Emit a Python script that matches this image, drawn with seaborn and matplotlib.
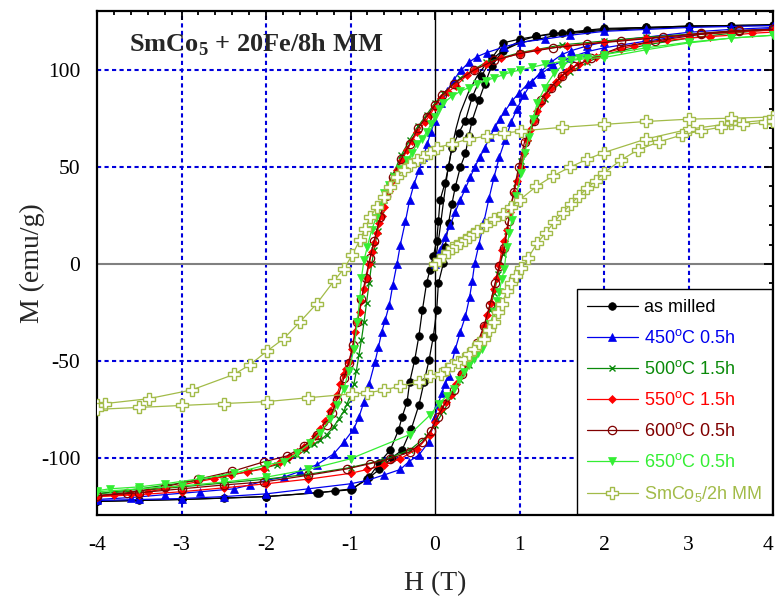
import numpy as np
import pandas as pd
import seaborn as sns
import matplotlib
matplotlib.use("Agg")
import matplotlib.pyplot as plt
from matplotlib.lines import Line2D
from matplotlib.ticker import MultipleLocator

# ---------------- data ----------------
# as milled
am_vir_H = [0, 0.05, 0.1, 0.15, 0.2, 0.25, 0.3, 0.4, 0.5, 0.6, 0.8, 1.0, 1.5, 2.0, 3.0, 4.0]
am_vir_M = [0, 15, 32, 48, 60, 70, 78, 89, 97, 103, 110, 114, 118.5, 120.5, 122.5, 123.5]
am_des_H = [4, 3.5, 3, 2.5, 2, 1.8, 1.6, 1.4, 1.2, 1.0, 0.8, 0.67, 0.55, 0.44, 0.36, 0.28, 0.2, 0.16, 0.12,
            0.06, 0.04, 0.02, -0.02, -0.06, -0.1, -0.15, -0.19, -0.24, -0.3, -0.33, -0.39, -0.43, -0.53,
            -0.66, -0.78, -0.98, -1.18, -1.37, -2.0, -2.5, -3.0, -3.5, -4.0]
am_des_M = [123, 123, 122.7, 122, 121.5, 120.6, 119.6, 119, 117.5, 116, 114, 106, 97, 86, 74, 67.5, 60, 50, 42,
            33, 22, 12, 4, -3, -10, -24, -37, -49.5, -61, -71, -79, -85.5, -96,
            -102.6, -110, -116, -117, -118, -120, -120.8, -121.5, -122, -122.5]
am_asc_H = [-4, -3, -2, -1.4, -1.0, -0.8, -0.66, -0.51, -0.39, -0.28, -0.19, -0.13, -0.07, -0.02, 0.02, 0.04,
            0.1, 0.12, 0.16, 0.2, 0.24, 0.3, 0.36, 0.4, 0.44, 0.52, 0.59, 0.67, 0.8, 1.0, 1.2, 1.5, 2.0, 2.5,
            3.0, 3.5, 4.0]
am_asc_M = [-122.5, -121.5, -120, -118, -116.5, -111, -106, -100, -96, -85, -72.7, -61, -49.5, -37.5, -24, -10,
            0.5, 8.8, 21, 31, 39.7, 50, 57, 66, 74, 84.5, 93, 102, 110, 115, 117.5, 119, 121, 122,
            122.7, 123, 123.2]

# 450 C 0.5h
b_vir_H = [0, 0.06, 0.12, 0.18, 0.24, 0.3, 0.36, 0.42, 0.47, 0.53, 0.59, 0.65, 0.71, 0.77, 0.83, 0.91, 0.99,
           1.1, 1.25, 1.4, 1.6, 1.8, 2.0, 2.5, 3.0, 3.5, 4.0]
b_vir_M = [0, 7, 14, 20, 27, 33, 39, 45, 50, 55, 60, 65.5, 70.6, 75, 79, 84, 88,
           93, 98, 102.5, 106.5, 109.5, 111.5, 115, 118, 120, 121.5]
b_des_H = [4, 3.5, 3, 2.5, 2, 1.6, 1.3, 1.02, 0.82, 0.61, 0.5, 0.4, 0.31, 0.22, 0.14, 0.07, 0, -0.05, -0.09,
           -0.14, -0.19, -0.25, -0.3, -0.35, -0.41, -0.45, -0.5, -0.54, -0.59, -0.63, -0.67, -0.71, -0.78,
           -0.84, -0.9, -0.96, -1.08, -1.2, -1.4, -1.6, -1.79, -2.0, -2.19, -2.38, -2.78, -3.2, -3.6, -4.0]
b_des_M = [123, 122.5, 122, 121, 120, 118, 116, 114.4, 112, 109, 107, 104, 100, 95, 89, 83, 74, 68, 62,
           55, 48.5, 41, 33, 22, 10, 0, -11, -21, -29, -35, -43, -50.5, -62,
           -71, -79, -85, -92, -98, -103.6, -107, -110, -111.6, -114, -116, -117.5, -119, -120.5, -121.5]
b_asc_H = [-4, -3.5, -3, -2.5, -2, -1.5, -1.0, -0.8, -0.6, -0.41, -0.31, -0.19, -0.07, 0.0, 0.04, 0.08, 0.12,
           0.16, 0.2, 0.24, 0.3, 0.36, 0.41, 0.44, 0.47, 0.52, 0.58, 0.64, 0.7, 0.76, 0.83, 0.9, 0.97, 1.05,
           1.15, 1.25, 1.37, 1.5, 1.61, 1.8, 2.0, 2.5, 3.0, 3.5, 4.0]
b_asc_M = [-122, -121.5, -121, -120, -118.6, -116, -113.4, -111.6, -108.8, -106, -102, -98.5, -91.6, -79, -72,
           -66.5, -62, -58, -51, -44, -35, -27, -17, -9, 0.5, 10, 22, 34, 45, 55, 64, 73, 80, 87,
           94, 99, 104, 108, 110, 112.5, 114.5, 117, 119.5, 121, 122]

# 500 C 1.5h
g_des_H = [4, 3.5, 3, 2.5, 2, 1.5, 1.0, 0.6, 0.3, 0.1, 0, -0.1, -0.2, -0.3, -0.4, -0.5, -0.55, -0.6, -0.64,
           -0.68, -0.72, -0.75, -0.78, -0.81, -0.84, -0.87, -0.9, -0.93, -0.96, -1.0, -1.04, -1.08, -1.14,
           -1.2, -1.28, -1.36, -1.43, -1.53, -1.63, -1.75, -1.87, -2.0, -2.2, -2.5, -3.0, -3.5, -4.0]
g_des_M = [121, 120, 118.5, 117, 115, 113, 109, 104, 96, 88, 83, 77, 71, 64, 56, 46, 40, 33, 26,
           17, 7, 0, -10, -20, -30, -39, -47, -55, -62, -68, -72, -76, -80,
           -84, -88, -91, -93, -96, -98.5, -101, -103.6, -105, -107, -109.5, -113, -116, -118.5]
g_asc_H = [-4, -3.5, -3, -2.5, -2, -1.5, -1.0, -0.6, -0.3, -0.1, 0, 0.1, 0.2, 0.3, 0.4, 0.5, 0.58, 0.65,
           0.7, 0.75, 0.8, 0.85, 0.9, 0.96, 1.02, 1.1, 1.2, 1.3, 1.45, 1.6, 1.8, 2.0, 2.5, 3.0, 3.5, 4.0]
g_asc_M = [-118.5, -117, -115, -113, -111, -108.5, -105, -101, -96, -89, -83, -76, -68, -60, -52, -43, -34, -24,
           -15, -5, 5, 17, 30, 42, 53, 65, 76, 85, 93, 99, 104, 108, 113, 116.5, 119, 121]

# 550 C 1.5h
r_des_H = [4, 3.5, 3, 2.5, 2, 1.56, 1.21, 1.0, 0.78, 0.6, 0.46, 0.38, 0.25, 0.15, 0.07, 0, -0.06, -0.12,
           -0.21, -0.27, -0.33, -0.39, -0.45, -0.5, -0.55, -0.6, -0.63, -0.66, -0.69, -0.72, -0.75, -0.78,
           -0.81, -0.84, -0.87, -0.89, -0.92, -0.95, -0.98, -1.02, -1.05, -1.08, -1.12, -1.16, -1.2, -1.24,
           -1.3, -1.36, -1.42, -1.48, -1.55, -1.63, -1.73, -1.83, -2.02, -2.22, -2.42, -2.62, -2.82, -3.0,
           -3.2, -3.4, -3.6, -3.8, -4.0]
r_des_M = [120.6, 119.5, 118, 116.5, 114.4, 112.5, 110.5, 108.5, 106, 103, 100, 97.5, 92, 88.5, 85.6, 81, 77, 73,
           68, 63.5, 58.8, 53.5, 48.5, 43.5, 37.5, 29.4, 25, 21, 16, 10.8, 6, 0,
           -7, -13, -19, -24.7, -30, -35, -43.8, -50.5, -54, -57, -62, -67.5, -72, -76,
           -81, -85, -88.5, -91.7, -94.5, -97, -99.5, -102, -105.7, -107.2, -109, -110.8, -112.4, -114,
           -116, -117.5, -118.6, -119.3, -120]
r_asc_H = [-4, -3.5, -3, -2.5, -2, -1.5, -1.0, -0.8, -0.6, -0.41, -0.21, -0.06, 0, 0.07, 0.13, 0.19, 0.25,
           0.31, 0.38, 0.46, 0.5, 0.54, 0.58, 0.62, 0.66, 0.7, 0.73, 0.76, 0.79, 0.82, 0.85, 0.89, 0.93,
           0.97, 1.02, 1.05, 1.09, 1.13, 1.17, 1.21, 1.25, 1.31, 1.37, 1.43, 1.49, 1.55, 1.61, 1.7, 1.8,
           1.9, 2.0, 2.2, 2.35, 2.5, 2.75, 3.0, 3.25, 3.5, 3.75, 4.0]
r_asc_M = [-120, -119, -117.5, -115.5, -113.4, -111, -108, -106, -103.6, -100.5, -95.4, -88, -81.5, -74.7, -71,
           -67.5, -62, -57, -52, -45, -42, -38.7, -32, -26.3, -20, -13, -7, -0.5, 7.2, 12, 17.5, 27, 36.6,
           43, 50, 57, 64, 69, 74, 79, 83, 87, 91, 94, 96.4, 99, 101, 103, 105,
           107, 108.8, 111, 112.5, 114, 115.3, 116.5, 117.3, 118, 119, 119.6]

# 600 C 0.5h
dr_des_H = [4, 3.6, 3.15, 2.7, 2.2, 1.8, 1.4, 1.0, 0.7, 0.46, 0.22, 0.08, 0, -0.1, -0.2, -0.3, -0.4, -0.5,
            -0.58, -0.65, -0.72, -0.77, -0.82, -0.87, -0.92, -0.97, -1.02, -1.08, -1.16, -1.22, -1.28,
            -1.4, -1.55, -1.75, -2.02, -2.4, -2.8, -3.2, -3.64, -4.0]
dr_des_M = [121, 120.5, 119, 117, 115, 113.5, 111.5, 108.5, 105, 100, 93, 87, 82, 76, 70, 62, 54, 45,
            35, 24, 12, 3, -7, -18, -30, -42, -51, -59, -70, -77, -83,
            -88, -94, -99, -102, -107, -111, -115, -118, -119.5]
dr_asc_H = [-4, -3.5, -3, -2.5, -2.02, -1.5, -1.04, -0.77, -0.53, -0.3, -0.15, -0.05, 0.03, 0.12, 0.22, 0.32,
            0.42, 0.5, 0.58, 0.65, 0.71, 0.76, 0.82, 0.87, 0.93, 0.99, 1.06, 1.17, 1.25, 1.37, 1.5, 1.65,
            1.85, 2.2, 2.6, 3.15, 3.6, 4.0]
dr_asc_M = [-119.5, -118, -116, -114, -112.4, -109, -105.7, -103, -100.5, -97, -92, -86, -79, -72, -65, -57,
            -48, -41, -32, -21, -10, -1, 8, 22, 37, 50, 63, 74, 84.5, 91, 97, 102,
            106, 112, 115, 118.5, 120, 121]

# 650 C 0.5h
lg_des_H = [4, 3.5, 3, 2.5, 2, 1.7, 1.5, 1.3, 1.15, 1.0, 0.9, 0.8, 0.7, 0.6, 0.5, 0.4, 0.3, 0.2, 0.1, 0.05,
            0, -0.05, -0.1, -0.15, -0.21, -0.27, -0.33, -0.41, -0.49, -0.55, -0.6, -0.65, -0.7, -0.75, -0.8,
            -0.84, -0.87, -0.89, -0.92, -0.96, -1.02, -1.08, -1.16, -1.24, -1.36, -1.48, -1.63, -1.79,
            -1.99, -2.38, -2.78, -3.2, -3.5, -3.85, -4.0]
lg_des_M = [118, 116.5, 114.4, 111.5, 108, 106, 104.5, 103, 101.5, 100, 99, 97.5, 96, 94.5, 93, 91, 89, 86.5, 83, 80,
            76, 72, 68, 64.5, 62, 57.5, 53.6, 49, 45, 40.5, 36.6, 30, 23.5, 17.5, 9,
            2, -7, -18, -30, -44, -55, -64.6, -73, -80, -87, -92.6, -97.5, -102,
            -103.6, -108, -110.8, -113.4, -115, -116, -117]
lg_asc_H = [-4, -3.5, -3, -2.5, -2, -1.5, -1.0, -0.3, -0.06, 0.05, 0.14, 0.22, 0.28, 0.34, 0.4, 0.46, 0.51,
            0.56, 0.6, 0.65, 0.7, 0.73, 0.76, 0.79, 0.82, 0.85, 0.88, 0.91, 0.96, 1.02, 1.06, 1.11, 1.16,
            1.21, 1.3, 1.41, 1.5, 1.61, 1.8, 2.0, 2.5, 3.0, 3.5, 4.0]
lg_asc_M = [-117.5, -116, -114.5, -112.5, -110, -106, -100.5, -88, -78, -72, -68, -64.6, -60, -55.6, -52, -49, -46,
            -44, -38, -31, -24.7, -19, -14.4, -8, -2.6, 8.8, 16, 22.7, 35, 47, 57, 65.5, 75,
            83, 91, 98.4, 102, 105, 106, 106.5, 110.5, 114, 116.5, 118]

# SmCo5 / 2h MM
ol_vir_H = [0, 0.05, 0.1, 0.15, 0.2, 0.25, 0.3, 0.35, 0.4, 0.45, 0.5, 0.6, 0.7, 0.8, 0.9, 1.0, 1.2, 1.4, 1.6,
            1.8, 2.0, 2.5, 3.0, 3.5, 4.0]
ol_vir_M = [0, 2, 4, 6, 8, 9.5, 11, 12.5, 14, 15.5, 17, 20, 23, 26, 29.5, 33, 40, 45.5, 50,
            54, 57.5, 64.5, 69.5, 72.5, 74.5]
ol_des_H = [4, 3.5, 3.0, 2.5, 2.0, 1.5, 1.02, 0.82, 0.62, 0.4, 0.2, 0.02, -0.06, -0.14, -0.21, -0.29, -0.37,
            -0.45, -0.53, -0.6, -0.69, -0.77, -0.83, -0.89, -0.98, -1.08, -1.2, -1.4, -1.6, -1.79, -1.99,
            -2.19, -2.38, -2.88, -3.39, -3.9, -4.0]
ol_des_M = [75.8, 75.2, 74.7, 73.5, 72, 70.5, 68.6, 67.5, 66, 64.5, 62, 60, 57, 55, 53.6, 51, 48.5,
            45, 39.7, 34.5, 29.4, 24, 18, 12.4, 4.6, -2.6, -9, -20.5, -30, -38.5, -45,
            -52, -57, -65, -69.5, -72, -73]
ol_asc_H = [-4, -3.5, -3, -2.5, -1.99, -1.5, -0.98, -0.8, -0.6, -0.41, -0.19, -0.06, 0.07, 0.14, 0.2, 0.27,
            0.34, 0.4, 0.46, 0.52, 0.58, 0.64, 0.7, 0.75, 0.79, 0.85, 0.9, 0.96, 1.02, 1.1, 1.21, 1.31,
            1.41, 1.51, 1.61, 1.7, 1.8, 1.9, 2.0, 2.2, 2.4, 2.65, 2.92, 3.15, 3.39, 3.65, 3.9, 4.0]
ol_asc_M = [-75, -74, -73, -72, -71, -69, -67, -66.5, -65, -63, -61, -58, -56.7, -54, -52, -50.5,
            -49, -46.5, -43.8, -41, -38.7, -34, -30, -25, -20.6, -14, -10, -6, -2, 3, 10.8, 16,
            21.6, 26.5, 31, 35, 39, 43, 47, 53.6, 58.8, 63, 66.5, 68.8, 70.6, 72, 73, 74]

labels = ["as milled", "450$^\\mathrm{o}$C 0.5h", "500$^\\mathrm{o}$C 1.5h", "550$^\\mathrm{o}$C 1.5h",
          "600$^\\mathrm{o}$C 0.5h", "650$^\\mathrm{o}$C 0.5h", "SmCo$_5$/2h MM"]
colors = ["#000000", "#0000ee", "#0a8a0a", "#ff0000", "#800000", "#33ee33", "#a2bb48"]
x_ticks = [-4, -3, -2, -1, 0, 1, 2, 3, 4]
x_ticklabels = ["-4", "-3", "-2", "-1", "0", "1", "2", "3", "4"]

# ---------------- style ----------------
sns.set_style("white")
plt.rcParams.update({
    "font.family": ["Liberation Serif", "DejaVu Serif"],
    "mathtext.fontset": "custom",
    "mathtext.rm": "Liberation Sans",
    "mathtext.it": "Liberation Sans:italic",
    "mathtext.bf": "Liberation Serif:bold",
    "axes.unicode_minus": False,
})

fig = plt.figure(figsize=(7.76, 5.98), dpi=100)
ax = fig.add_axes([97 / 776, 1 - 515 / 598, 676 / 776, 504 / 598])
ax.set_xlim(-4, 4)
ax.set_ylim(-129.5, 130.5)

# grid lines
for gx in [-3, -2, -1, 1, 2, 3]:
    ax.axvline(gx, color="#0000dd", lw=1.5, ls=(0, (2, 1.6)), zorder=0)
for gy in [-100, -50, 50, 100]:
    ax.axhline(gy, color="#0000dd", lw=1.5, ls=(0, (2, 1.6)), zorder=0)
ax.axvline(0, color="black", lw=1.0, zorder=0.5)
ax.axhline(0, color="#808080", lw=1.5, zorder=0.5)

styles = [
    dict(marker="o", markersize=5.5, markerfacecolor="#000000", markeredgecolor="#000000", markeredgewidth=0.5),
    dict(marker="^", markersize=6, markerfacecolor="#0000ee", markeredgecolor="#0000ee", markeredgewidth=0.5),
    dict(marker="x", markersize=4.5, markerfacecolor="#0a8a0a", markeredgecolor="#0a8a0a", markeredgewidth=1.0),
    dict(marker="D", markersize=4, markerfacecolor="#ff0000", markeredgecolor="#ff0000", markeredgewidth=0.5),
    dict(marker="o", markersize=6, markerfacecolor="none", markeredgecolor="#800000", markeredgewidth=0.9),
    dict(marker="v", markersize=6, markerfacecolor="#33ee33", markeredgecolor="#33ee33", markeredgewidth=0.5),
    dict(marker="P", markersize=8, markerfacecolor="white", markeredgecolor="#a2bb48", markeredgewidth=1.0),
]

series = [
    [(am_des_H, am_des_M), (am_asc_H, am_asc_M)],
    [(b_vir_H, b_vir_M), (b_des_H, b_des_M), (b_asc_H, b_asc_M)],
    [(g_des_H, g_des_M), (g_asc_H, g_asc_M)],
    [(r_des_H, r_des_M), (r_asc_H, r_asc_M)],
    [(dr_des_H, dr_des_M), (dr_asc_H, dr_asc_M)],
    [(lg_des_H, lg_des_M), (lg_asc_H, lg_asc_M)],
    [(ol_vir_H, ol_vir_M), (ol_des_H, ol_des_M), (ol_asc_H, ol_asc_M)],
]

# as-milled virgin curve (line only)
sns.lineplot(x=am_vir_H, y=am_vir_M, sort=False, estimator=None, color="#000000", lw=0.9,
             legend=False, ax=ax, zorder=2)

for i, (branches, col, st) in enumerate(zip(series, colors, styles)):
    for (h, m) in branches:
        df = pd.DataFrame({"H": h, "M": m})
        sns.lineplot(data=df, x="H", y="M", sort=False, estimator=None, color=col, lw=0.9,
                     legend=False, ax=ax, zorder=2 + i, **st)

# axes styling
for sp in ax.spines.values():
    sp.set_linewidth(1.6)
    sp.set_color("black")
ax.set_xticks(x_ticks)
ax.set_xticklabels(x_ticklabels)
ax.xaxis.set_minor_locator(MultipleLocator(0.2))
ax.yaxis.set_major_locator(MultipleLocator(50))
ax.yaxis.set_minor_locator(MultipleLocator(10))
ax.tick_params(which="both", direction="in", top=True, right=True, width=1.3, colors="black")
ax.tick_params(which="major", length=6.5, labelsize=15.5)
ax.tick_params(which="minor", length=3)
ax.tick_params(axis="x", which="major", pad=15)
ax.tick_params(axis="y", which="major", pad=12)
for t in ax.get_xticklabels() + ax.get_yticklabels():
    t.set_family("Liberation Serif")
# keep the last x tick label inside the figure
ax.xaxis.get_major_ticks()[-1].label1.set_horizontalalignment("right")

ax.set_xlabel("H (T)", fontsize=20, family="Liberation Serif", labelpad=12)
ax.set_ylabel("M (emu/g)", fontsize=20, family="Liberation Serif", labelpad=-3)

ax.text(0.047, 0.919, "SmCo$_\\mathbf{5}$ + 20Fe/8h MM", transform=ax.transAxes,
        fontsize=19, fontweight="bold", family="Liberation Serif", va="baseline", ha="left")

handles = [Line2D([0], [0], color=c, lw=0.9, **st) for c, st in zip(colors, styles)]
leg = ax.legend(handles, labels, loc="lower right", bbox_to_anchor=(1.0, 0.0), borderaxespad=0.05,
                frameon=True, fancybox=False, edgecolor="black", framealpha=1, numpoints=1,
                prop={"family": "Liberation Sans", "size": 13}, handlelength=2.8, handletextpad=0.35,
                labelspacing=0.72, borderpad=0.55)
leg.get_frame().set_linewidth(1.0)
leg.set_zorder(20)
for txt, c in zip(leg.get_texts(), colors):
    txt.set_color(c)

fig.savefig("out.png", dpi=100)
